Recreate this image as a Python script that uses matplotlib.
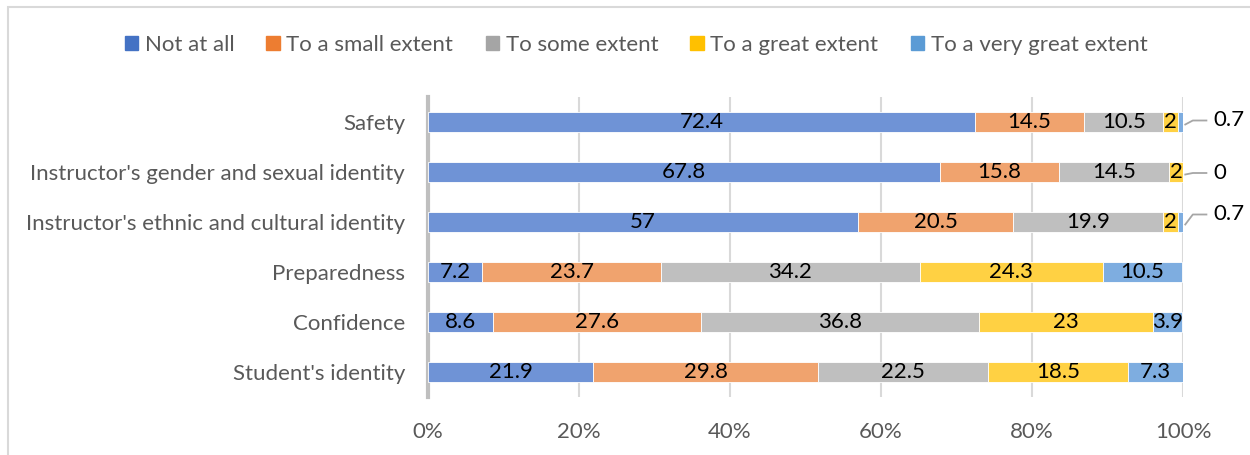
import matplotlib.pyplot as plt
import matplotlib.patches as mpatches
import numpy as np

plt.rcParams['font.family'] = ['Lato', 'DejaVu Sans']

# survey categories, top to bottom
categories = ["Safety",
              "Instructor's gender and sexual identity",
              "Instructor's ethnic and cultural identity",
              "Preparedness",
              "Confidence",
              "Student's identity"]

series_names = ["Not at all", "To a small extent", "To some extent",
                "To a great extent", "To a very great extent"]

not_at_all = [72.4, 67.8, 57, 7.2, 8.6, 21.9]
small_extent = [14.5, 15.8, 20.5, 23.7, 27.6, 29.8]
some_extent = [10.5, 14.5, 19.9, 34.2, 36.8, 22.5]
great_extent = [2, 2, 2, 24.3, 23, 18.5]
very_great_extent = [0.7, 0, 0.7, 10.5, 3.9, 7.3]

legend_colors = ['#4472C4', '#ED7D31', '#A5A5A5', '#FFC000', '#5B9BD5']
bar_colors = ['#6F93D6', '#F0A36E', '#BFBFBF', '#FFD143', '#7EADE0']

series = [not_at_all, small_extent, some_extent, great_extent, very_great_extent]
FS = 16

fig = plt.figure(figsize=(12.5, 4.55), dpi=100)
ax = fig.add_axes([428 / 1250, 1 - 397 / 455, (1183 - 428) / 1250, 300 / 455])

y = np.arange(len(categories))
left = np.zeros(len(categories))
for vals, col in zip(series, bar_colors):
    vals = np.array(vals, dtype=float)
    ax.barh(y, vals, left=left, height=0.4, color=col, edgecolor='white',
            linewidth=0.6, zorder=3)
    for i, v in enumerate(vals):
        if v >= 1.5:
            ax.text(left[i] + v / 2, y[i], f"{v:g}", ha='center', va='center',
                    fontsize=FS, color='black', zorder=4)
    left += vals

# small values get labels outside with leader lines
label_shift = [-0.03, 0.02, -0.15]
for i in range(3):
    v = very_great_extent[i]
    end = left[i]
    ly = y[i] + label_shift[i]
    ax.plot([end + 0.2, end + 1.2, end + 3.0], [y[i] + 0.05, ly, ly],
            color='#A6A6A6', lw=1.3, clip_on=False, zorder=4)
    ax.text(end + 3.9, ly, f"{v:g}", ha='left', va='center', fontsize=FS,
            color='black')

ax.set_xlim(0, 100)
ax.set_ylim(len(categories) - 0.5, -0.5)
ax.set_yticks(y)
ax.set_yticklabels(categories, fontsize=FS, color='#595959')
ax.set_xticks(np.arange(0, 101, 20))
ax.set_xticklabels([f"{t}%" for t in range(0, 101, 20)], fontsize=FS,
                   color='#595959')
ax.tick_params(axis='both', length=0)
ax.tick_params(axis='y', pad=16.5)
ax.tick_params(axis='x', pad=18)
ax.grid(axis='x', color='#D9D9D9', lw=1.5, zorder=0)
for s in ['top', 'right', 'bottom']:
    ax.spines[s].set_visible(False)
ax.spines['left'].set_color('#BFBFBF')
ax.spines['left'].set_linewidth(3)

handles = [mpatches.Patch(color=c, label=n) for c, n in zip(legend_colors, series_names)]
fig.legend(handles=handles, loc='center', bbox_to_anchor=(636 / 1250, 1 - 45 / 455),
           ncol=5, frameon=False, fontsize=FS, handlelength=0.6, handleheight=0.6,
           handletextpad=0.3, columnspacing=1.45, labelcolor='#595959')

# chart border
border = mpatches.Rectangle((8 / 1250, -0.1), 1.2, 1.1 - 7 / 455,
                            transform=fig.transFigure, fill=False,
                            edgecolor='#D9D9D9', lw=1.5)
fig.patches.append(border)

fig.savefig('out.png', dpi=100)
